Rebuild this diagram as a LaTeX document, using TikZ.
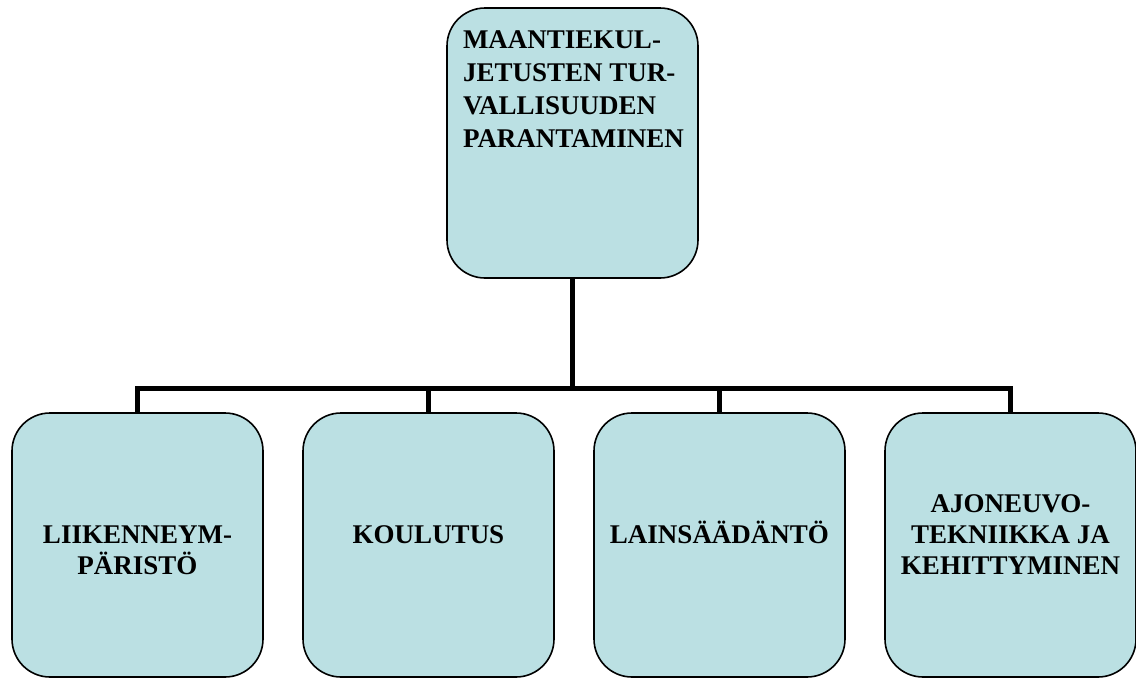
\documentclass[tikz,border=0pt]{standalone}
\usepackage{fontspec}
\setmainfont{Liberation Serif}
\definecolor{boxblue}{RGB}{187,224,227}

\tikzset{
    card/.style={draw,line width=1.6pt,fill=boxblue,rounded corners=38pt,
        inner xsep=10pt,inner ysep=0pt,minimum width=251pt},
    topcard/.style={card,inner xsep=16pt},
    link/.style={line width=5pt}
}
% text of a bottom box, #1 = space above first line
\newcommand{\cardtext}[2]{\parbox[c][264pt][t]{231pt}{\centering\vspace*{#1}\rule{0pt}{26pt}#2}}

\begin{document}
\begin{tikzpicture}[x=1pt,y=-1pt,font=\fontsize{27}{31}\selectfont\bfseries]
    \useasboundingbox (0,0) rectangle (1136,678);

    %% top box
    \node[topcard] (safety) at (572.5,143)
        {\parbox[c][270pt][t]{219pt}{\fontsize{27}{33}\selectfont\vspace*{14pt}\rule{0pt}{26pt}MAANTIEKUL-\\JETUSTEN TUR-\\VALLISUUDEN\\PARANTAMINEN}};

    %% bottom row
    \node[card] (environment) at (137.5,545) {\cardtext{104pt}{LIIKENNEYM-\\PÄRISTÖ}};
    \node[card] (training) at (428.5,545) {\cardtext{104pt}{KOULUTUS}};
    \node[card] (legislation) at (719.5,545) {\cardtext{104pt}{LAINSÄÄDÄNTÖ}};
    \node[card] (vehicles) at (1010.5,545) {\cardtext{73pt}{AJONEUVO-\\TEKNIIKKA JA\\KEHITTYMINEN}};

    %% connectors
    \coordinate (bar) at (572.5,388);
    \draw[link] (safety.south) -- (bar);
    \draw[link] (environment.north) |- (bar) -| (vehicles.north);
    \draw[link] (bar -| training.north) -- (training.north);
    \draw[link] (bar -| legislation.north) -- (legislation.north);
\end{tikzpicture}
\end{document}
